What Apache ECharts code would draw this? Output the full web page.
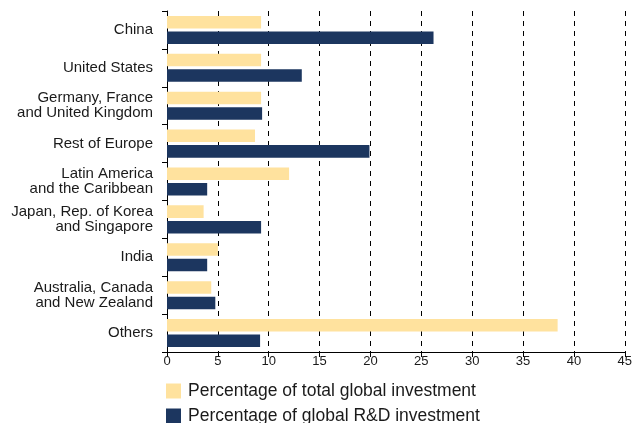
<!DOCTYPE html>
<html><head><meta charset="utf-8">
<script src="https://cdn.jsdelivr.net/npm/echarts@6/dist/echarts.min.js"></script>
<style>html,body{margin:0;padding:0;background:#fff}#c{width:635px;height:423px}</style>
</head><body><div id="c"></div>
<script>
var categories = ["China","United States","Germany, France\nand United Kingdom","Rest of Europe","Latin America\nand the Caribbean","Japan, Rep. of Korea\nand Singapore","India","Australia, Canada\nand New Zealand","Others"];
var totalInvestment = [9.25, 9.25, 9.25, 8.65, 12.0, 3.6, 5.0, 4.35, 38.4];
var rdInvestment = [26.2, 13.25, 9.35, 19.9, 3.95, 9.25, 3.95, 4.75, 9.15];
var seriesNames = ["Percentage of total global investment","Percentage of global R&D investment"];
var xTicks = {min: 0, max: 45, interval: 5};

var chart = echarts.init(document.getElementById('c'), null, {renderer: 'canvas'});
var font = 'Liberation Sans, Arial, sans-serif';
function legendAt(top, name) {
  return {
    orient: 'horizontal', left: 161, top: top, itemWidth: 15, itemHeight: 15, itemGap: 9,
    icon: 'rect', textStyle: {fontSize: 17.5, color: '#1a1a1a', fontFamily: font, padding: [0,0,0,2]},
    data: [name]
  };
}
chart.setOption({
  animation: false,
  textStyle: {fontFamily: font},
  grid: {left: 167, right: 7, top: 11, bottom: 71, containLabel: false},
  legend: [legendAt(377, seriesNames[0]), legendAt(402, seriesNames[1])],
  xAxis: {
    type: 'value', min: xTicks.min, max: xTicks.max, interval: xTicks.interval,
    axisLine: {show: true, lineStyle: {color: '#000', width: 1}},
    axisTick: {show: true, length: 5, lineStyle: {color: '#000'}},
    axisLabel: {fontSize: 13, color: '#1a1a1a', margin: 3, fontFamily: font},
    splitLine: {show: true, lineStyle: {color: '#000', type: [5,5], width: 1}}
  },
  yAxis: {
    type: 'category', data: categories, inverse: true,
    axisLine: {show: true, lineStyle: {color: '#000', width: 1}},
    axisTick: {show: true, length: 5, lineStyle: {color: '#000'}},
    axisLabel: {fontSize: 15, color: '#1a1a1a', margin: 14, lineHeight: 15, fontFamily: font}
  },
  series: [
    {name: seriesNames[0], type: 'bar', data: totalInvestment, barGap: '24%', barCategoryGap: '26%',
     itemStyle: {color: '#FFE29E'}},
    {name: seriesNames[1], type: 'bar', data: rdInvestment,
     itemStyle: {color: '#1C365F'}}
  ]
});
</script></body></html>
